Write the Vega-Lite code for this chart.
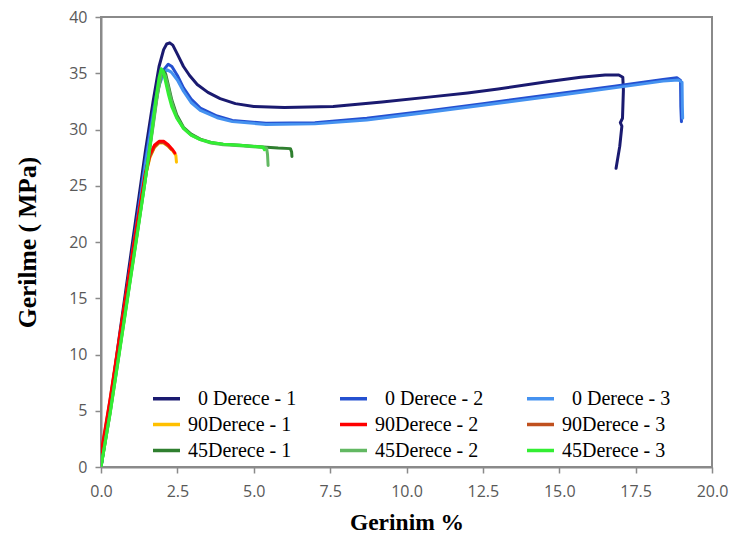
{
  "$schema": "https://vega.github.io/schema/vega-lite/v6.json",
  "width": 611,
  "height": 450,
  "autosize": {"type": "none"},
  "padding": {"left": 101, "top": 17, "right": 18, "bottom": 74},
  "background": "white",
  "config": {
    "view": {"stroke": "#8a8a8a", "strokeWidth": 2},
    "axis": {
      "grid": false,
      "domainColor": "#8a8a8a",
      "domainWidth": 2,
      "tickColor": "#8a8a8a",
      "tickWidth": 1.5,
      "tickSize": 6,
      "labelFont": "Open Sans",
      "labelFontSize": 16,
      "labelColor": "#595959",
      "titleFont": "Liberation Serif",
      "titleFontWeight": "bold",
      "titleColor": "black"
    }
  },
  "datasets": {
    "curves": [
      {"series":"0 Derece - 1","strain":0,"stress":0},{"series":"0 Derece - 1","strain":0.3,"stress":5.6},{"series":"0 Derece - 1","strain":0.6,"stress":11.6},{"series":"0 Derece - 1","strain":0.9,"stress":17.4},{"series":"0 Derece - 1","strain":1.2,"stress":23.2},{"series":"0 Derece - 1","strain":1.45,"stress":28},{"series":"0 Derece - 1","strain":1.7,"stress":32.4},{"series":"0 Derece - 1","strain":1.9,"stress":35.6},{"series":"0 Derece - 1","strain":2.05,"stress":37.1},{"series":"0 Derece - 1","strain":2.15,"stress":37.6},{"series":"0 Derece - 1","strain":2.25,"stress":37.7},{"series":"0 Derece - 1","strain":2.35,"stress":37.5},{"series":"0 Derece - 1","strain":2.5,"stress":36.7},{"series":"0 Derece - 1","strain":2.7,"stress":35.6},{"series":"0 Derece - 1","strain":2.9,"stress":34.8},{"series":"0 Derece - 1","strain":3.15,"stress":34.0},{"series":"0 Derece - 1","strain":3.5,"stress":33.3},{"series":"0 Derece - 1","strain":3.9,"stress":32.75},{"series":"0 Derece - 1","strain":4.4,"stress":32.3},{"series":"0 Derece - 1","strain":5.0,"stress":32.05},{"series":"0 Derece - 1","strain":6.0,"stress":31.95},{"series":"0 Derece - 1","strain":7.6,"stress":32.05},{"series":"0 Derece - 1","strain":9.2,"stress":32.45},{"series":"0 Derece - 1","strain":10.8,"stress":32.9},{"series":"0 Derece - 1","strain":12.0,"stress":33.25},{"series":"0 Derece - 1","strain":13.0,"stress":33.6},{"series":"0 Derece - 1","strain":14.6,"stress":34.25},{"series":"0 Derece - 1","strain":15.7,"stress":34.65},{"series":"0 Derece - 1","strain":16.5,"stress":34.85},{"series":"0 Derece - 1","strain":16.95,"stress":34.85},{"series":"0 Derece - 1","strain":17.08,"stress":34.65},{"series":"0 Derece - 1","strain":17.1,"stress":33.5},{"series":"0 Derece - 1","strain":17.07,"stress":31.0},{"series":"0 Derece - 1","strain":17.0,"stress":30.6},{"series":"0 Derece - 1","strain":17.05,"stress":30.3},{"series":"0 Derece - 1","strain":16.98,"stress":28.5},{"series":"0 Derece - 1","strain":16.86,"stress":26.55},

      {"series":"0 Derece - 2","strain":0,"stress":0},{"series":"0 Derece - 2","strain":0.3,"stress":5.3},{"series":"0 Derece - 2","strain":0.6,"stress":11.1},{"series":"0 Derece - 2","strain":0.9,"stress":16.8},{"series":"0 Derece - 2","strain":1.2,"stress":22.4},{"series":"0 Derece - 2","strain":1.45,"stress":27.2},{"series":"0 Derece - 2","strain":1.7,"stress":31.5},{"series":"0 Derece - 2","strain":1.9,"stress":34.2},{"series":"0 Derece - 2","strain":2.05,"stress":35.3},{"series":"0 Derece - 2","strain":2.2,"stress":35.8},{"series":"0 Derece - 2","strain":2.32,"stress":35.6},{"series":"0 Derece - 2","strain":2.5,"stress":34.8},{"series":"0 Derece - 2","strain":2.7,"stress":33.7},{"series":"0 Derece - 2","strain":2.95,"stress":32.7},{"series":"0 Derece - 2","strain":3.25,"stress":31.9},{"series":"0 Derece - 2","strain":3.8,"stress":31.2},{"series":"0 Derece - 2","strain":4.3,"stress":30.8},{"series":"0 Derece - 2","strain":5.4,"stress":30.55},{"series":"0 Derece - 2","strain":7.0,"stress":30.6},{"series":"0 Derece - 2","strain":8.7,"stress":31.0},{"series":"0 Derece - 2","strain":10.8,"stress":31.7},{"series":"0 Derece - 2","strain":12.5,"stress":32.3},{"series":"0 Derece - 2","strain":15.0,"stress":33.2},{"series":"0 Derece - 2","strain":16.8,"stress":33.85},{"series":"0 Derece - 2","strain":18.4,"stress":34.45},{"series":"0 Derece - 2","strain":18.85,"stress":34.6},{"series":"0 Derece - 2","strain":18.97,"stress":34.35},{"series":"0 Derece - 2","strain":18.98,"stress":32.0},{"series":"0 Derece - 2","strain":19.0,"stress":30.7},

      {"series":"0 Derece - 3","strain":0,"stress":0},{"series":"0 Derece - 3","strain":0.3,"stress":5.2},{"series":"0 Derece - 3","strain":0.6,"stress":10.9},{"series":"0 Derece - 3","strain":0.9,"stress":16.5},{"series":"0 Derece - 3","strain":1.2,"stress":22.0},{"series":"0 Derece - 3","strain":1.45,"stress":26.8},{"series":"0 Derece - 3","strain":1.7,"stress":31.0},{"series":"0 Derece - 3","strain":1.9,"stress":33.9},{"series":"0 Derece - 3","strain":2.05,"stress":35.0},{"series":"0 Derece - 3","strain":2.17,"stress":35.3},{"series":"0 Derece - 3","strain":2.3,"stress":35.1},{"series":"0 Derece - 3","strain":2.5,"stress":34.4},{"series":"0 Derece - 3","strain":2.7,"stress":33.4},{"series":"0 Derece - 3","strain":2.95,"stress":32.4},{"series":"0 Derece - 3","strain":3.25,"stress":31.7},{"series":"0 Derece - 3","strain":3.8,"stress":31.05},{"series":"0 Derece - 3","strain":4.3,"stress":30.7},{"series":"0 Derece - 3","strain":5.4,"stress":30.45},{"series":"0 Derece - 3","strain":7.0,"stress":30.5},{"series":"0 Derece - 3","strain":8.7,"stress":30.85},{"series":"0 Derece - 3","strain":10.8,"stress":31.55},{"series":"0 Derece - 3","strain":12.5,"stress":32.15},{"series":"0 Derece - 3","strain":15.0,"stress":33.05},{"series":"0 Derece - 3","strain":16.8,"stress":33.7},{"series":"0 Derece - 3","strain":18.4,"stress":34.3},{"series":"0 Derece - 3","strain":18.9,"stress":34.4},{"series":"0 Derece - 3","strain":19.02,"stress":34.2},{"series":"0 Derece - 3","strain":19.03,"stress":32.0},{"series":"0 Derece - 3","strain":19.04,"stress":31.0},

      {"series":"90Derece - 1","strain":0,"stress":0.8},{"series":"90Derece - 1","strain":0.3,"stress":5.8},{"series":"90Derece - 1","strain":0.6,"stress":11.2},{"series":"90Derece - 1","strain":0.9,"stress":16.5},{"series":"90Derece - 1","strain":1.2,"stress":21.7},{"series":"90Derece - 1","strain":1.45,"stress":25.8},{"series":"90Derece - 1","strain":1.6,"stress":27.5},{"series":"90Derece - 1","strain":1.75,"stress":28.4},{"series":"90Derece - 1","strain":1.9,"stress":28.8},{"series":"90Derece - 1","strain":2.05,"stress":28.8},{"series":"90Derece - 1","strain":2.2,"stress":28.5},{"series":"90Derece - 1","strain":2.35,"stress":28.1},{"series":"90Derece - 1","strain":2.45,"stress":27.7},{"series":"90Derece - 1","strain":2.47,"stress":27.1},

      {"series":"90Derece - 3","strain":0,"stress":1.0},{"series":"90Derece - 3","strain":0.3,"stress":6.0},{"series":"90Derece - 3","strain":0.6,"stress":11.3},{"series":"90Derece - 3","strain":0.9,"stress":16.6},{"series":"90Derece - 3","strain":1.2,"stress":21.8},{"series":"90Derece - 3","strain":1.45,"stress":25.9},{"series":"90Derece - 3","strain":1.6,"stress":27.6},{"series":"90Derece - 3","strain":1.75,"stress":28.45},{"series":"90Derece - 3","strain":1.9,"stress":28.85},{"series":"90Derece - 3","strain":2.05,"stress":28.85},{"series":"90Derece - 3","strain":2.2,"stress":28.55},{"series":"90Derece - 3","strain":2.3,"stress":28.25},

      {"series":"90Derece - 2","strain":0,"stress":1.2},{"series":"90Derece - 2","strain":0.3,"stress":6.1},{"series":"90Derece - 2","strain":0.6,"stress":11.5},{"series":"90Derece - 2","strain":0.9,"stress":16.8},{"series":"90Derece - 2","strain":1.2,"stress":22.0},{"series":"90Derece - 2","strain":1.45,"stress":26.1},{"series":"90Derece - 2","strain":1.6,"stress":27.8},{"series":"90Derece - 2","strain":1.75,"stress":28.6},{"series":"90Derece - 2","strain":1.9,"stress":28.95},{"series":"90Derece - 2","strain":2.05,"stress":28.95},{"series":"90Derece - 2","strain":2.2,"stress":28.65},{"series":"90Derece - 2","strain":2.33,"stress":28.25},{"series":"90Derece - 2","strain":2.42,"stress":27.9},

      {"series":"45Derece - 1","strain":0,"stress":0},{"series":"45Derece - 1","strain":0.3,"stress":4.9},{"series":"45Derece - 1","strain":0.6,"stress":10.3},{"series":"45Derece - 1","strain":0.9,"stress":15.7},{"series":"45Derece - 1","strain":1.2,"stress":21.1},{"series":"45Derece - 1","strain":1.45,"stress":25.6},{"series":"45Derece - 1","strain":1.7,"stress":30.4},{"series":"45Derece - 1","strain":1.85,"stress":33.3},{"series":"45Derece - 1","strain":1.97,"stress":34.8},{"series":"45Derece - 1","strain":2.05,"stress":35.2},{"series":"45Derece - 1","strain":2.12,"stress":34.9},{"series":"45Derece - 1","strain":2.2,"stress":34.0},{"series":"45Derece - 1","strain":2.32,"stress":32.6},{"series":"45Derece - 1","strain":2.48,"stress":31.3},{"series":"45Derece - 1","strain":2.7,"stress":30.2},{"series":"45Derece - 1","strain":2.95,"stress":29.6},{"series":"45Derece - 1","strain":3.25,"stress":29.15},{"series":"45Derece - 1","strain":3.6,"stress":28.85},{"series":"45Derece - 1","strain":4.0,"stress":28.7},{"series":"45Derece - 1","strain":4.55,"stress":28.6},{"series":"45Derece - 1","strain":5.3,"stress":28.45},{"series":"45Derece - 1","strain":5.8,"stress":28.35},{"series":"45Derece - 1","strain":6.2,"stress":28.3},{"series":"45Derece - 1","strain":6.24,"stress":28.0},{"series":"45Derece - 1","strain":6.25,"stress":27.6},

      {"series":"45Derece - 2","strain":0,"stress":0},{"series":"45Derece - 2","strain":0.3,"stress":4.8},{"series":"45Derece - 2","strain":0.6,"stress":10.2},{"series":"45Derece - 2","strain":0.9,"stress":15.6},{"series":"45Derece - 2","strain":1.2,"stress":21.0},{"series":"45Derece - 2","strain":1.45,"stress":25.5},{"series":"45Derece - 2","strain":1.7,"stress":30.2},{"series":"45Derece - 2","strain":1.85,"stress":33.1},{"series":"45Derece - 2","strain":1.97,"stress":34.9},{"series":"45Derece - 2","strain":2.03,"stress":35.1},{"series":"45Derece - 2","strain":2.1,"stress":34.8},{"series":"45Derece - 2","strain":2.2,"stress":33.8},{"series":"45Derece - 2","strain":2.32,"stress":32.4},{"series":"45Derece - 2","strain":2.48,"stress":31.1},{"series":"45Derece - 2","strain":2.7,"stress":30.1},{"series":"45Derece - 2","strain":2.95,"stress":29.5},{"series":"45Derece - 2","strain":3.25,"stress":29.1},{"series":"45Derece - 2","strain":3.6,"stress":28.8},{"series":"45Derece - 2","strain":4.0,"stress":28.65},{"series":"45Derece - 2","strain":4.55,"stress":28.55},{"series":"45Derece - 2","strain":5.3,"stress":28.4},{"series":"45Derece - 2","strain":5.42,"stress":28.35},{"series":"45Derece - 2","strain":5.45,"stress":27.8},{"series":"45Derece - 2","strain":5.47,"stress":26.8},

      {"series":"45Derece - 3","strain":0,"stress":0},{"series":"45Derece - 3","strain":0.3,"stress":4.8},{"series":"45Derece - 3","strain":0.6,"stress":10.1},{"series":"45Derece - 3","strain":0.9,"stress":15.5},{"series":"45Derece - 3","strain":1.2,"stress":20.9},{"series":"45Derece - 3","strain":1.45,"stress":25.5},{"series":"45Derece - 3","strain":1.65,"stress":29.5},{"series":"45Derece - 3","strain":1.8,"stress":32.8},{"series":"45Derece - 3","strain":1.9,"stress":34.6},{"series":"45Derece - 3","strain":1.97,"stress":35.4},{"series":"45Derece - 3","strain":2.03,"stress":35.2},{"series":"45Derece - 3","strain":2.1,"stress":34.4},{"series":"45Derece - 3","strain":2.2,"stress":33.2},{"series":"45Derece - 3","strain":2.32,"stress":32.0},{"series":"45Derece - 3","strain":2.48,"stress":31.0},{"series":"45Derece - 3","strain":2.7,"stress":30.1},{"series":"45Derece - 3","strain":2.95,"stress":29.5},{"series":"45Derece - 3","strain":3.25,"stress":29.1},{"series":"45Derece - 3","strain":3.6,"stress":28.85},{"series":"45Derece - 3","strain":4.0,"stress":28.7},{"series":"45Derece - 3","strain":4.55,"stress":28.6},{"series":"45Derece - 3","strain":5.0,"stress":28.5},{"series":"45Derece - 3","strain":5.3,"stress":28.45},{"series":"45Derece - 3","strain":5.35,"stress":28.2}
    ]
  },
  "data": {"name": "curves"},
  "mark": {"type": "line", "strokeWidth": 3, "interpolate": "linear", "clip": true, "strokeJoin": "round", "strokeCap": "round"},
  "encoding": {
    "x": {
      "field": "strain", "type": "quantitative",
      "scale": {"domain": [0, 20], "nice": false, "zero": false},
      "axis": {"title": "Gerinim %", "titleFontSize": 23.5, "values": [0, 2.5, 5, 7.5, 10, 12.5, 15, 17.5, 20], "format": ".1f", "labelPadding": 10, "titlePadding": 11, "labelFlush": false}
    },
    "y": {
      "field": "stress", "type": "quantitative",
      "scale": {"domain": [0, 40], "nice": false},
      "axis": {"title": "Gerilme ( MPa)", "titleFontSize": 25.5, "values": [0, 5, 10, 15, 20, 25, 30, 35, 40], "labelPadding": 8, "titlePadding": 28}
    },
    "color": {
      "field": "series", "type": "nominal",
      "scale": {
        "domain": ["0 Derece - 1", "0 Derece - 2", "0 Derece - 3", "90Derece - 1", "90Derece - 2", "90Derece - 3", "45Derece - 1", "45Derece - 2", "45Derece - 3"],
        "range": ["#1a1a70", "#2450d0", "#4592f0", "#ffc000", "#ff0000", "#c0501e", "#2f7f2f", "#62b862", "#33ee33"]
      },
      "legend": {
        "orient": "none", "legendX": 50, "legendY": 366, "direction": "horizontal", "columns": 3,
        "title": null, "symbolType": "stroke", "symbolSize": 729, "symbolStrokeWidth": 3.5,
        "labelFont": "Liberation Serif", "labelFontSize": 20, "labelColor": "black", "labelOffset": 6,
        "columnPadding": 36, "rowPadding": -3, "padding": 0,
        "labelExpr": "(indexof(datum.label, '9') == 0 || indexof(datum.label, '4') == 0) ? datum.label : '\u2060\u00a0\u00a0' + datum.label"
      }
    },
    "order": {"value": null}
  }
}
